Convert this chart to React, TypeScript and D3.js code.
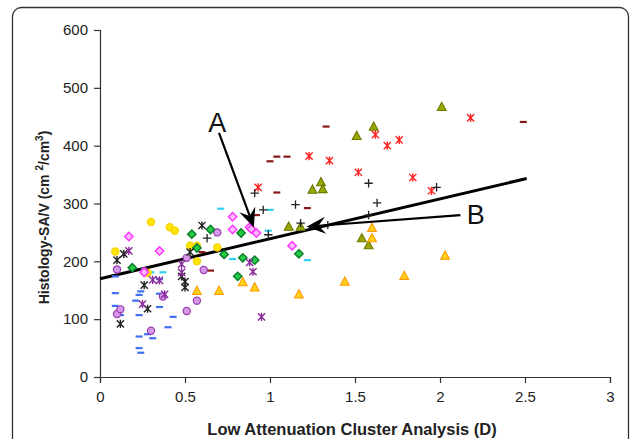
import * as React from 'react';
import {useEffect, useRef} from 'react';
import * as d3 from 'd3';

const width = 634;
const height = 439;
const margin = {top: 30, right: 24, bottom: 62, left: 100};

type Pt = [number, number];

// series: [cluster D, SA/V]
const yellowCircles: Pt[] = [[0.09, 217], [0.30, 268], [0.41, 259], [0.44, 253], [0.53, 227], [0.57, 227], [0.57, 200], [0.69, 224], [0.28, 180]];
const magentaDiamonds: Pt[] = [[0.17, 243], [0.35, 218], [0.26, 181], [0.78, 277], [0.78, 255], [0.88, 259], [0.89, 256], [0.92, 249], [1.13, 227]];
const greenDiamonds: Pt[] = [[0.19, 189], [0.54, 247], [0.57, 223], [0.65, 255], [0.73, 212], [0.83, 249], [0.84, 206], [0.91, 202], [0.81, 174], [1.17, 213]];
const purpleCircles: Pt[] = [[0.10, 186], [0.10, 109], [0.12, 117], [0.26, 183], [0.30, 80], [0.37, 139], [0.51, 206], [0.51, 114], [0.57, 132], [0.61, 185], [0.69, 250]];
const blackStars: Pt[] = [[0.10, 202], [0.14, 213], [0.12, 92], [0.26, 159], [0.28, 118], [0.48, 174], [0.50, 165], [0.50, 155], [0.53, 216], [0.60, 262]];
const purpleStars: Pt[] = [[0.17, 218], [0.25, 126], [0.31, 168], [0.35, 167], [0.38, 143], [0.48, 195], [0.48, 181], [0.88, 198], [0.90, 182], [0.95, 104]];
const blueDashes: Pt[] = [[0.09, 145], [0.09, 123], [0.12, 107], [0.21, 132], [0.24, 148], [0.23, 142], [0.23, 107], [0.23, 70], [0.23, 50], [0.24, 42], [0.28, 74], [0.31, 67], [0.35, 121], [0.35, 169], [0.35, 144], [0.43, 104], [0.40, 86], [0.09, 174]];
const cyanDashes: Pt[] = [[0.30, 181], [0.37, 181], [0.71, 291], [0.78, 204], [0.99, 253], [1.00, 289], [1.22, 202]];
const darkRedDashes: Pt[] = [[0.60, 216], [0.65, 184], [1.00, 373], [1.04, 381], [1.10, 381], [1.33, 433], [1.04, 319], [1.22, 292], [0.92, 280], [2.49, 441]];
const redStars: Pt[] = [[0.93, 328], [1.23, 382], [1.35, 374], [1.52, 354], [1.62, 419], [1.69, 400], [1.76, 410], [1.84, 345], [1.95, 322], [2.18, 448]];
const blackPlus: Pt[] = [[0.91, 318], [0.96, 289], [1.15, 298], [1.58, 335], [1.63, 301], [1.98, 328], [1.58, 280], [1.18, 266], [1.34, 263], [0.99, 246], [0.63, 240]];
const oliveTriangles: Pt[] = [[2.01, 467], [1.61, 433], [1.51, 417], [1.30, 337], [1.25, 324], [1.31, 325], [1.11, 260], [1.18, 260], [1.54, 240], [1.58, 228]];
const yellowTriangles: Pt[] = [[0.57, 149], [0.70, 149], [0.84, 164], [0.91, 155], [1.17, 143], [1.44, 165], [1.60, 258], [1.60, 240], [1.79, 175], [2.03, 210]];

const xTicks = [0, 0.5, 1, 1.5, 2, 2.5, 3];
const yTicks = [0, 100, 200, 300, 400, 500, 600];

// fitted line y = a + b x
const fit = {intercept: 170, slope: 69, xMax: 2.51};

// annotations: label position, arrow start, arrow tip
const arrows = [
  {label: 'A', text: [0.69, 440] as Pt, from: [0.70, 422] as Pt, to: [0.905, 259] as Pt},
  {label: 'B', text: [2.21, 280] as Pt, from: [2.12, 280] as Pt, to: [1.215, 260] as Pt},
];

type Kind = 'circle' | 'diamond' | 'triangle' | 'star' | 'plus' | 'dash';
const series: {data: Pt[], kind: Kind, fill: string, stroke: string}[] = [
  {data: blueDashes, kind: 'dash', fill: 'none', stroke: '#3f6ff0'},
  {data: cyanDashes, kind: 'dash', fill: 'none', stroke: '#2fd0f0'},
  {data: darkRedDashes, kind: 'dash', fill: 'none', stroke: '#8a1a1a'},
  {data: yellowCircles, kind: 'circle', fill: '#ffe600', stroke: '#f5d000'},
  {data: purpleCircles, kind: 'circle', fill: '#d49ae8', stroke: '#9a3cb0'},
  {data: magentaDiamonds, kind: 'diamond', fill: '#ffb8ff', stroke: '#ff33ff'},
  {data: greenDiamonds, kind: 'diamond', fill: '#22cc44', stroke: '#0a7a2a'},
  {data: oliveTriangles, kind: 'triangle', fill: '#99a800', stroke: '#6c7800'},
  {data: yellowTriangles, kind: 'triangle', fill: '#ffd21a', stroke: '#ff9a00'},
  {data: blackStars, kind: 'star', fill: 'none', stroke: '#222'},
  {data: purpleStars, kind: 'star', fill: 'none', stroke: '#8a2a9a'},
  {data: redStars, kind: 'star', fill: 'none', stroke: '#ff2020'},
  {data: blackPlus, kind: 'plus', fill: 'none', stroke: '#222'},
];

const font = '"Liberation Sans", Arial, sans-serif';

export default function App() {
  const ref = useRef<SVGSVGElement>(null);

  useEffect(() => {
    const svg = d3.select(ref.current);
    svg.selectAll('*').remove();

    const x = d3.scaleLinear().domain([0, 3]).range([margin.left, width - margin.right]);
    const y = d3.scaleLinear().domain([0, 600]).range([height - margin.bottom, margin.top]);

    // frame
    svg.append('rect')
      .attr('x', 12.5).attr('y', 7.5)
      .attr('width', width - 18).attr('height', height + 20)
      .attr('rx', 9)
      .attr('fill', 'white').attr('stroke', '#333').attr('stroke-width', 1.3);

    // axes
    const xAxis = svg.append('g').attr('transform', `translate(0,${y(0)})`)
      .call(d3.axisBottom(x).tickValues(xTicks).tickSize(6).tickPadding(8).tickFormat(d3.format('')));
    const yAxis = svg.append('g').attr('transform', `translate(${x(0)},0)`)
      .call(d3.axisLeft(y).tickValues(yTicks).tickSize(6).tickPadding(6));
    [xAxis, yAxis].forEach(g => {
      g.select('.domain').attr('stroke', '#333').attr('stroke-width', 1.2);
      g.selectAll('line').attr('stroke', '#333').attr('stroke-width', 1.2);
      g.selectAll('text').attr('fill', '#222').style('font', `15px ${font}`);
    });

    // fitted line
    svg.append('line')
      .attr('x1', x(0)).attr('y1', y(fit.intercept))
      .attr('x2', x(fit.xMax)).attr('y2', y(fit.intercept + fit.slope * fit.xMax))
      .attr('stroke', 'black').attr('stroke-width', 3);

    const s = 3.6;
    const g = svg.append('g');
    series.forEach(ser => {
      ser.data.forEach(([dx, dy]) => {
        const cx = x(dx), cy = y(dy);
        const m = g.append('g').attr('transform', `translate(${cx},${cy})`);
        if (ser.kind === 'circle') {
          m.append('circle').attr('r', s).attr('fill', ser.fill).attr('stroke', ser.stroke).attr('stroke-width', 1.2);
        } else if (ser.kind === 'diamond') {
          m.append('path').attr('d', `M0,${-s - 0.6}L${s + 0.6},0L0,${s + 0.6}L${-s - 0.6},0Z`)
            .attr('fill', ser.fill).attr('stroke', ser.stroke).attr('stroke-width', 1.4);
        } else if (ser.kind === 'triangle') {
          m.append('path').attr('d', `M0,${-s - 1}L${s + 0.8},${s}L${-s - 0.8},${s}Z`)
            .attr('fill', ser.fill).attr('stroke', ser.stroke).attr('stroke-width', 1.1);
        } else if (ser.kind === 'star') {
          const r = s;
          m.append('path').attr('d', `M${-r},${-r}L${r},${r}M${-r},${r}L${r},${-r}M0,${-r - 0.5}L0,${r + 0.5}`)
            .attr('stroke', ser.stroke).attr('stroke-width', 1.4);
        } else if (ser.kind === 'plus') {
          const r = s + 0.6;
          m.append('path').attr('d', `M${-r},0L${r},0M0,${-r}L0,${r}`)
            .attr('stroke', ser.stroke).attr('stroke-width', 1.3);
        } else {
          m.append('path').attr('d', `M${-3.5},0L3.5,0`)
            .attr('stroke', ser.stroke).attr('stroke-width', 2.2);
        }
      });
    });

    // annotation arrows
    arrows.forEach(a => {
      const [x1, y1] = [x(a.from[0]), y(a.from[1])];
      const [x2, y2] = [x(a.to[0]), y(a.to[1])];
      const ang = Math.atan2(y2 - y1, x2 - x1);
      const len = 19, half = 8.5, notch = 12;
      const ux = Math.cos(ang), uy = Math.sin(ang);
      const px = -uy, py = ux;
      const bx = x2 - ux * len, by = y2 - uy * len;
      const nx = x2 - ux * notch, ny = y2 - uy * notch;
      svg.append('line')
        .attr('x1', x1).attr('y1', y1).attr('x2', nx).attr('y2', ny)
        .attr('stroke', 'black').attr('stroke-width', 2.2);
      svg.append('path')
        .attr('d', `M${x2},${y2}L${bx + px * half},${by + py * half}L${nx},${ny}L${bx - px * half},${by - py * half}Z`)
        .attr('fill', 'black');
      svg.append('text')
        .attr('x', x(a.text[0])).attr('y', y(a.text[1]))
        .attr('text-anchor', 'middle').attr('dominant-baseline', 'central')
        .style('font', `27px ${font}`).attr('fill', '#111')
        .text(a.label);
    });

    // axis titles
    svg.append('text')
      .attr('x', (x(0) + x(3)) / 2 - 3).attr('y', height - 4)
      .attr('text-anchor', 'middle')
      .style('font', `bold 16.5px ${font}`).attr('fill', '#222')
      .text('Low Attenuation Cluster Analysis (D)');

    const yt = svg.append('text')
      .attr('transform', `translate(49,${(y(0) + y(600)) / 2 + 14}) rotate(-90)`)
      .attr('text-anchor', 'middle')
      .style('font', `bold 14px ${font}`).attr('fill', '#222');
    yt.append('tspan').text('Histology-SA/V (cm ');
    yt.append('tspan').attr('dy', -6).style('font-size', '10px').text('2');
    yt.append('tspan').attr('dy', 6).text('/cm');
    yt.append('tspan').attr('dy', -6).style('font-size', '10px').text('3');
    yt.append('tspan').attr('dy', 6).text(')');
  }, []);

  return (
    <svg ref={ref} width={width} height={height}
      style={{position: 'absolute', left: 0, top: 0, background: 'white'}} />
  );
}
